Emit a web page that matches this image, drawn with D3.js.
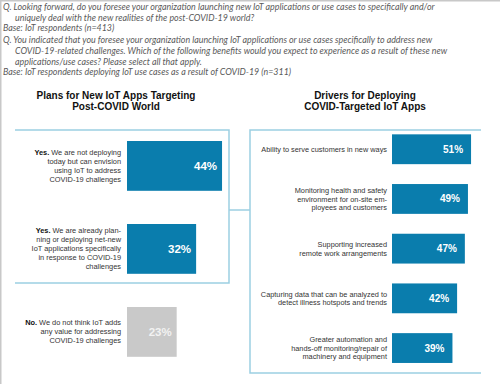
<!DOCTYPE html>
<html>
<head>
<meta charset="utf-8">
<script src="https://cdn.jsdelivr.net/npm/d3@7"></script>
<style>
  body { margin: 0; background: #fff; }
  svg { display: block; }
</style>
</head>
<body>
<svg id="chart"></svg>
<script>
const width = 500;
const height = 384;

// survey questions above the charts
const questionLines = [
    { text: "Q. Looking forward, do you foresee your organization launching new IoT applications or use cases to specifically and/or", indent: false },
    { text: "uniquely deal with the new realities of the post-COVID-19 world?", indent: true },
    { text: "Base: IoT respondents (n=413)", indent: false },
    { text: "Q. You indicated that you foresee your organization launching IoT applications or use cases specifically to address new", indent: false },
    { text: "COVID-19-related challenges. Which of the following benefits would you expect to experience as a result of these new", indent: true },
    { text: "applications/use cases? Please select all that apply.", indent: true },
    { text: "Base: IoT respondents deploying IoT use cases as a result of COVID-19 (n=311)", indent: false }
];

// left chart: plans
const planTitle = ["Plans for New IoT Apps Targeting", "Post-COVID World"];
const planKeys = ["yesEnvision", "yesPlanning", "no"];
const planLead = ["Yes.", "Yes.", "No."];
const planLabels = [
    ["We are not deploying", "today but can envision", "using IoT to address", "COVID-19 challenges"],
    ["We are already plan-", "ning or deploying net-new", "IoT applications specifically", "in response to COVID-19", "challenges"],
    ["We do not think IoT adds", "any value for addressing", "COVID-19 challenges"]
];
const planValues = [44, 32, 23];

// right chart: drivers
const driverTitle = ["Drivers for Deploying", "COVID-Targeted IoT Apps"];
const driverKeys = ["serve", "health", "remote", "data", "automation"];
const driverLabels = [
    ["Ability to serve customers in new ways"],
    ["Monitoring health and safety", "environment for on-site em-", "ployees and customers"],
    ["Supporting increased", "remote work arrangements"],
    ["Capturing data that can be analyzed to", "detect illness hotspots and trends"],
    ["Greater automation and", "hands-off monitoring/repair of", "machinery and equipment"]
];
const driverValues = [51, 49, 47, 42, 39];

const blue = "#0a7dad";
const grey = "#c9c9c9";
const frame = "#9ccfe2";

const svg = d3.select("#chart")
    .attr("width", width)
    .attr("height", height)
    .style("font-family", "Arial, 'Liberation Sans', sans-serif");

// outer page edge (top and left only)
svg.append("path")
    .attr("d", `M0.75,${height} V0.75 H${width}`)
    .attr("fill", "none")
    .attr("stroke", "#c8c8c8")
    .attr("stroke-width", 1.5);

// header
svg.append("g")
    .selectAll("text")
    .data(questionLines)
    .join("text")
    .attr("x", (d) => d.indent ? 15 : 3)
    .attr("y", (d, i) => 10 + i * 10.6 + (i >= 3 ? 1.5 : 0))
    .attr("font-family", "Lato, 'Open Sans', sans-serif")
    .attr("font-style", "italic")
    .attr("font-size", 8.9)
    .attr("fill", "#5a5a5a")
    .text((d) => d.text);

// scales, left
const xPlan = d3.scaleLinear().domain([0, 100]).range([127, 343]);
const yPlan = d3.scaleBand()
    .domain(planKeys)
    .range([124.4, 373.4])
    .paddingInner(0.4)
    .paddingOuter(0.2);

// scales, right
const xDriver = d3.scaleLinear().domain([0, 100]).range([392, 547]);
const yDriver = d3.scaleBand()
    .domain(driverKeys)
    .range([124.4, 372.9])
    .paddingInner(0.4)
    .paddingOuter(0.2);

// frames
const frames = svg.append("g")
    .attr("fill", "none")
    .attr("stroke", frame)
    .attr("stroke-width", 1.5);
frames.append("path").attr("d", "M15,130 H229 V283 H15");
frames.append("path").attr("d", "M481,130 H250 V373 H481");
frames.append("path").attr("d", "M229,210 H250");

function titles(lines, cx) {
    svg.append("g")
        .selectAll("text")
        .data(lines)
        .join("text")
        .attr("x", cx)
        .attr("y", (d, i) => 99 + i * 11)
        .attr("text-anchor", "middle")
        .attr("font-weight", "bold")
        .attr("font-size", 10)
        .attr("fill", "#111")
        .text((d) => d);
}
titles(planTitle, 116);
titles(driverTitle, 365);

// left bars
const plan = svg.append("g");
plan.selectAll("rect")
    .data(planKeys)
    .join("rect")
    .attr("x", xPlan(0))
    .attr("y", (k) => yPlan(k))
    .attr("width", (k, i) => xPlan(planValues[i]) - xPlan(0))
    .attr("height", yPlan.bandwidth())
    .attr("fill", (k) => k === "no" ? grey : blue);

plan.selectAll("text.val")
    .data(planKeys)
    .join("text")
    .attr("class", "val")
    .attr("x", (k, i) => xPlan(planValues[i]) - 5)
    .attr("y", (k) => yPlan(k) + yPlan.bandwidth() / 2)
    .attr("dy", "0.35em")
    .attr("text-anchor", "end")
    .attr("font-weight", "bold")
    .attr("font-size", 11.5)
    .attr("fill", (k) => k === "no" ? "#f2f2f2" : "#fff")
    .text((k, i) => planValues[i] + "%");

planKeys.forEach((k, i) => {
    const lines = planLabels[i];
    const lh = 9;
    const cy = yPlan(k) + yPlan.bandwidth() / 2;
    const t = plan.append("text")
        .attr("text-anchor", "end")
        .attr("font-size", 7.4)
        .attr("fill", "#333");
    lines.forEach((line, j) => {
        const ts = t.append("tspan")
            .attr("x", xPlan(0) - 6)
            .attr("y", cy + (j - (lines.length - 1) / 2) * lh)
            .attr("dy", "0.35em");
        if (j === 0) {
            ts.append("tspan").attr("font-weight", "bold").attr("fill", "#111").text(planLead[i] + " ");
        }
        ts.append("tspan").text(line);
    });
});

// right bars
const drv = svg.append("g");
drv.selectAll("rect")
    .data(driverKeys)
    .join("rect")
    .attr("x", xDriver(0))
    .attr("y", (k) => yDriver(k))
    .attr("width", (k, i) => xDriver(driverValues[i]) - xDriver(0))
    .attr("height", yDriver.bandwidth())
    .attr("fill", blue);

drv.selectAll("text.val")
    .data(driverKeys)
    .join("text")
    .attr("class", "val")
    .attr("x", (k, i) => xDriver(driverValues[i]) - 8)
    .attr("y", (k) => yDriver(k) + yDriver.bandwidth() / 2)
    .attr("dy", "0.35em")
    .attr("text-anchor", "end")
    .attr("font-weight", "bold")
    .attr("font-size", 10)
    .attr("fill", "#fff")
    .text((k, i) => driverValues[i] + "%");

driverKeys.forEach((k, i) => {
    const lines = driverLabels[i];
    const lh = 8.8;
    const cy = yDriver(k) + yDriver.bandwidth() / 2;
    drv.append("text")
        .attr("text-anchor", "end")
        .attr("font-size", 7.35)
        .attr("fill", "#333")
        .selectAll("tspan")
        .data(lines)
        .join("tspan")
        .attr("x", xDriver(0) - 5)
        .attr("y", (d, j) => cy + (j - (lines.length - 1) / 2) * lh)
        .attr("dy", "0.35em")
        .text((d) => d);
});
</script>
</body>
</html>
